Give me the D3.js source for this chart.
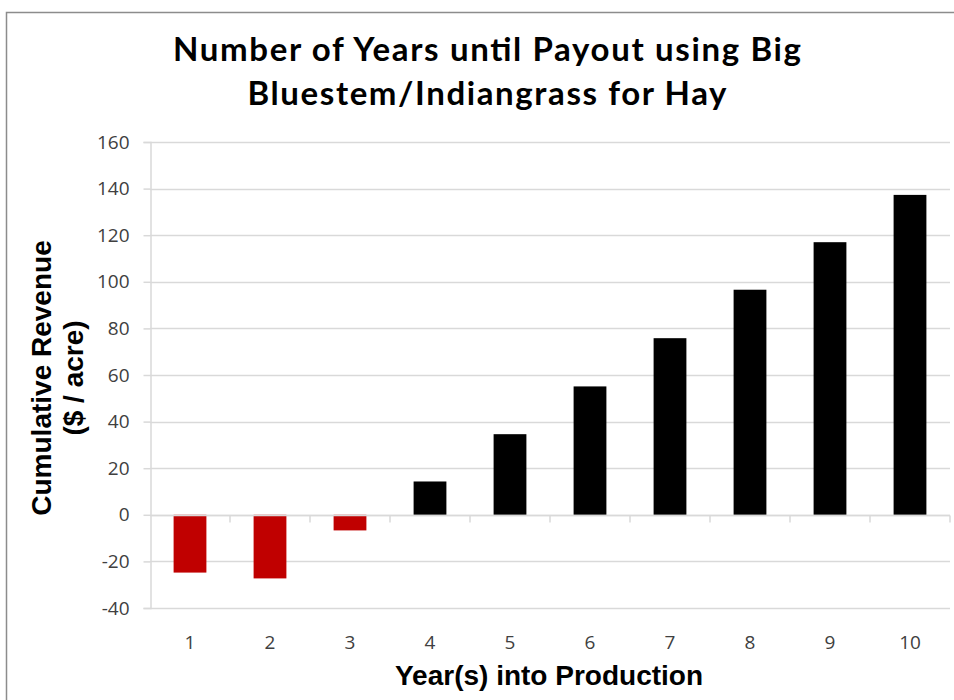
<!DOCTYPE html>
<html><head><meta charset="utf-8">
<script src="https://cdn.jsdelivr.net/npm/d3@7"></script>
<style>body{margin:0;background:#fff}svg{display:block}</style>
</head><body>
<script>
const years = ["1","2","3","4","5","6","7","8","9","10"];
const revenue = [-24.8, -27.3, -6.7, 14.3, 34.6, 55.1, 75.8, 96.6, 117.0, 137.3];
const yTicks = [-40,-20,0,20,40,60,80,100,120,140,160];
const titleLines = ["Number of Years until Payout using Big", "Bluestem/Indiangrass for Hay"];
const yTitle = ["Cumulative Revenue", "($ / acre)"];
const xTitle = "Year(s) into Production";

const W = 954, H = 700;
const svg = d3.select("body").append("svg").attr("width", W).attr("height", H);
svg.append("rect").attr("x", 6.5).attr("y", 12.5).attr("width", 980).attr("height", 720)
  .attr("fill", "#fff").attr("stroke", "#8c8c8c").attr("stroke-width", 1.5);

const m = {left:150, right:950, top:142, bottom:608};
const x = d3.scaleBand().domain(years).range([m.left, m.right]).paddingInner(0.59).paddingOuter(0.295);
const xo = d3.scaleBand().domain(years).range([m.left, m.right]);
const y = d3.scaleLinear().domain([-40,160]).range([m.bottom, m.top]);

// gridlines
svg.append("g").selectAll("line").data(yTicks).join("line")
  .attr("x1", m.left).attr("x2", m.right).attr("y1", d=>Math.round(y(d))+0.5).attr("y2", d=>Math.round(y(d))+0.5)
  .attr("stroke", "#d9d9d9").attr("stroke-width", 1.5);

// y axis
const ya = svg.append("g").attr("transform", `translate(${m.left+0.5},0)`)
  .call(d3.axisLeft(y).tickValues(yTicks).tickFormat(d=>String(d)).tickSize(7).tickPadding(14));
ya.select(".domain").attr("stroke", "#d9d9d9").attr("stroke-width", 1.5);
ya.selectAll(".tick line").attr("stroke", "#d9d9d9").attr("stroke-width", 1.5);
ya.selectAll("text").attr("font-family", "Open Sans, sans-serif").attr("font-size", 19).attr("fill", "#404040");

// bars
svg.append("g").selectAll("rect").data(revenue).join("rect")
  .attr("x", (d,i)=>x(years[i])).attr("width", x.bandwidth())
  .attr("y", d=>y(Math.max(0,d))).attr("height", d=>Math.abs(y(d)-y(0)))
  .attr("fill", d=> d<0 ? "#c00000" : "#000000");

// x axis at zero
const z = Math.round(y(0))+0.5;
svg.append("line").attr("x1", m.left).attr("x2", m.right).attr("y1", z).attr("y2", z)
  .attr("stroke", "#d9d9d9").attr("stroke-width", 1.5);
svg.append("g").selectAll("line").data(years.slice(1).concat(["end"])).join("line")
  .attr("x1", (d,i)=> i<9 ? xo(d) : m.right).attr("x2", (d,i)=> i<9 ? xo(d) : m.right)
  .attr("y1", z).attr("y2", z+7).attr("stroke", "#d9d9d9").attr("stroke-width", 1.5);

// x tick labels
svg.append("g").selectAll("text").data(years).join("text")
  .attr("x", d=>xo(d)+xo.bandwidth()/2).attr("y", 649).attr("text-anchor", "middle")
  .attr("font-family", "Open Sans, sans-serif").attr("font-size", 19).attr("fill", "#404040").text(d=>d);

// titles
const tl = [628, 479];
svg.append("g").selectAll("text").data(titleLines).join("text")
  .attr("x", 487).attr("y", (d,i)=>61+i*44).attr("text-anchor", "middle")
  .attr("textLength", (d,i)=>tl[i]).attr("lengthAdjust", "spacing")
  .attr("font-family", "Lato, sans-serif").attr("font-weight", "bold").attr("font-size", 33).attr("fill", "#000").text(d=>d);

svg.append("text").attr("x", 549).attr("y", 685).attr("text-anchor", "middle")
  .attr("font-family", "Liberation Sans, Arial, sans-serif").attr("font-weight", "bold").attr("font-size", 28)
  .attr("fill", "#000").text(xTitle);

svg.append("g").selectAll("text").data(yTitle).join("text")
  .attr("transform", (d,i)=>`translate(${51+i*32},378) rotate(-90)`).attr("text-anchor", "middle")
  .attr("font-family", "Liberation Sans, Arial, sans-serif").attr("font-weight", "bold").attr("font-size", 28)
  .attr("fill", "#000").text(d=>d);
</script>
</body></html>
